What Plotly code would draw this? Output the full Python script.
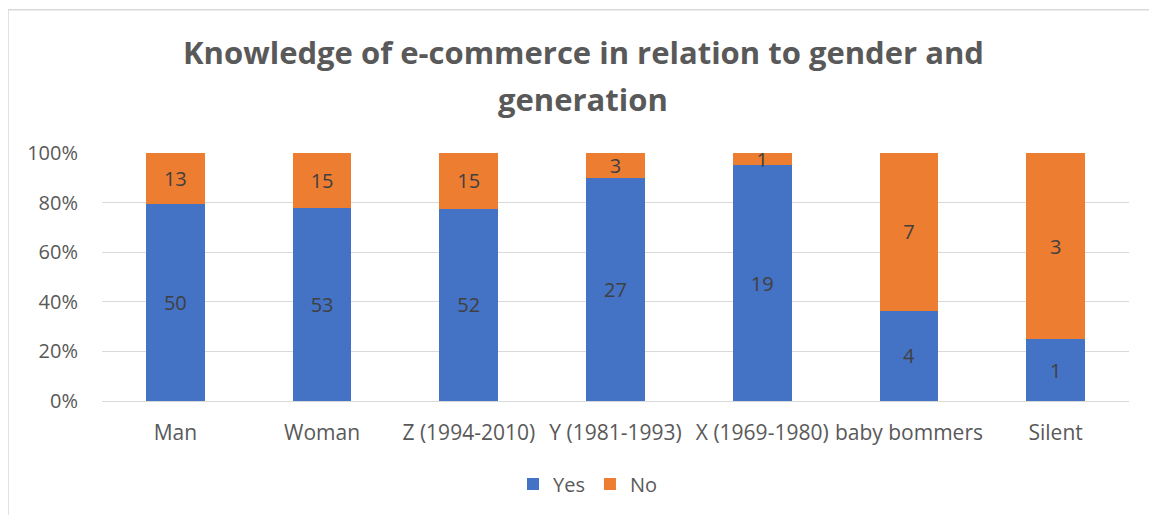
import plotly.graph_objects as go

categories = ['Man', 'Woman', 'Z (1994-2010)', 'Y (1981-1993)', 'X (1969-1980)',
              'baby bommers', 'Silent']
yes_counts = [50, 53, 52, 27, 19, 4, 1]
no_counts = [13, 15, 15, 3, 1, 7, 3]
title_lines = ['Knowledge of e-commerce in relation to gender and', 'generation']

# page body has an 8px margin, so work in figure pixels = reference pixels - 8
OFF = 8
W, H = 1157 - 2 * OFF, 523 - 2 * OFF
L, T = 102 - OFF, 153 - OFF
R = W - (1129 - OFF)
B = H - (404 - OFF)
pw, ph = W - L - R, H - T - B


def px_x(p):
    return (p - OFF - L) / pw


def px_y(p):
    return (H - B - (p - OFF)) / ph


FONT = 'Open Sans, Lato, sans-serif'
label_font = dict(family=FONT, size=20, color='#404040')

fig = go.Figure()
fig.add_trace(go.Bar(
    x=categories, y=yes_counts, name='Yes',
    marker_color='#4472C4', marker_line_width=0,
    text=yes_counts, textposition='inside', insidetextanchor='middle',
    textangle=0, constraintext='none', textfont=label_font,
))
fig.add_trace(go.Bar(
    x=categories, y=no_counts, name='No',
    marker_color='#ED7D31', marker_line_width=0,
    text=no_counts, textposition='inside', insidetextanchor='middle',
    textangle=0, constraintext='none', textfont=label_font,
))

# chart frame like the Excel chart area (right/bottom edge out of view)
fig.add_shape(type='rect', xref='paper', yref='paper', layer='below',
              x0=px_x(8), x1=px_x(1180), y0=px_y(540), y1=px_y(8),
              line=dict(color='#d9d9d9', width=1.5), fillcolor='rgba(0,0,0,0)')

for line, yp in zip(title_lines, [51, 98]):
    fig.add_annotation(text='<b>' + line + '</b>', xref='paper', yref='paper',
                       x=px_x(583), y=px_y(yp), xanchor='center', yanchor='middle',
                       showarrow=False, font=dict(family=FONT, size=31, color='#595959'))

fig.update_layout(
    width=W, height=H,
    margin=dict(l=L, r=R, t=T, b=B),
    barmode='stack', barnorm='percent', bargap=0.6,
    paper_bgcolor='white', plot_bgcolor='white',
    font=dict(family=FONT, color='#595959'),
    xaxis=dict(tickfont=dict(size=21, color='#595959'), showline=False,
               ticks='outside', ticklen=13, tickcolor='white', showgrid=False),
    yaxis=dict(range=[0, 100], dtick=20, ticksuffix='%',
               tickfont=dict(size=20, color='#595959'),
               gridcolor='#d9d9d9', gridwidth=1, zeroline=True,
               zerolinecolor='#d9d9d9', zerolinewidth=1, showline=False,
               ticks='outside', ticklen=19, tickcolor='white'),
    legend=dict(orientation='h', x=px_x(588), xanchor='center',
                y=px_y(488), yanchor='middle', traceorder='normal',
                font=dict(size=20, color='#595959'), itemwidth=30),
    showlegend=True,
)

fig.write_html('out.html')
